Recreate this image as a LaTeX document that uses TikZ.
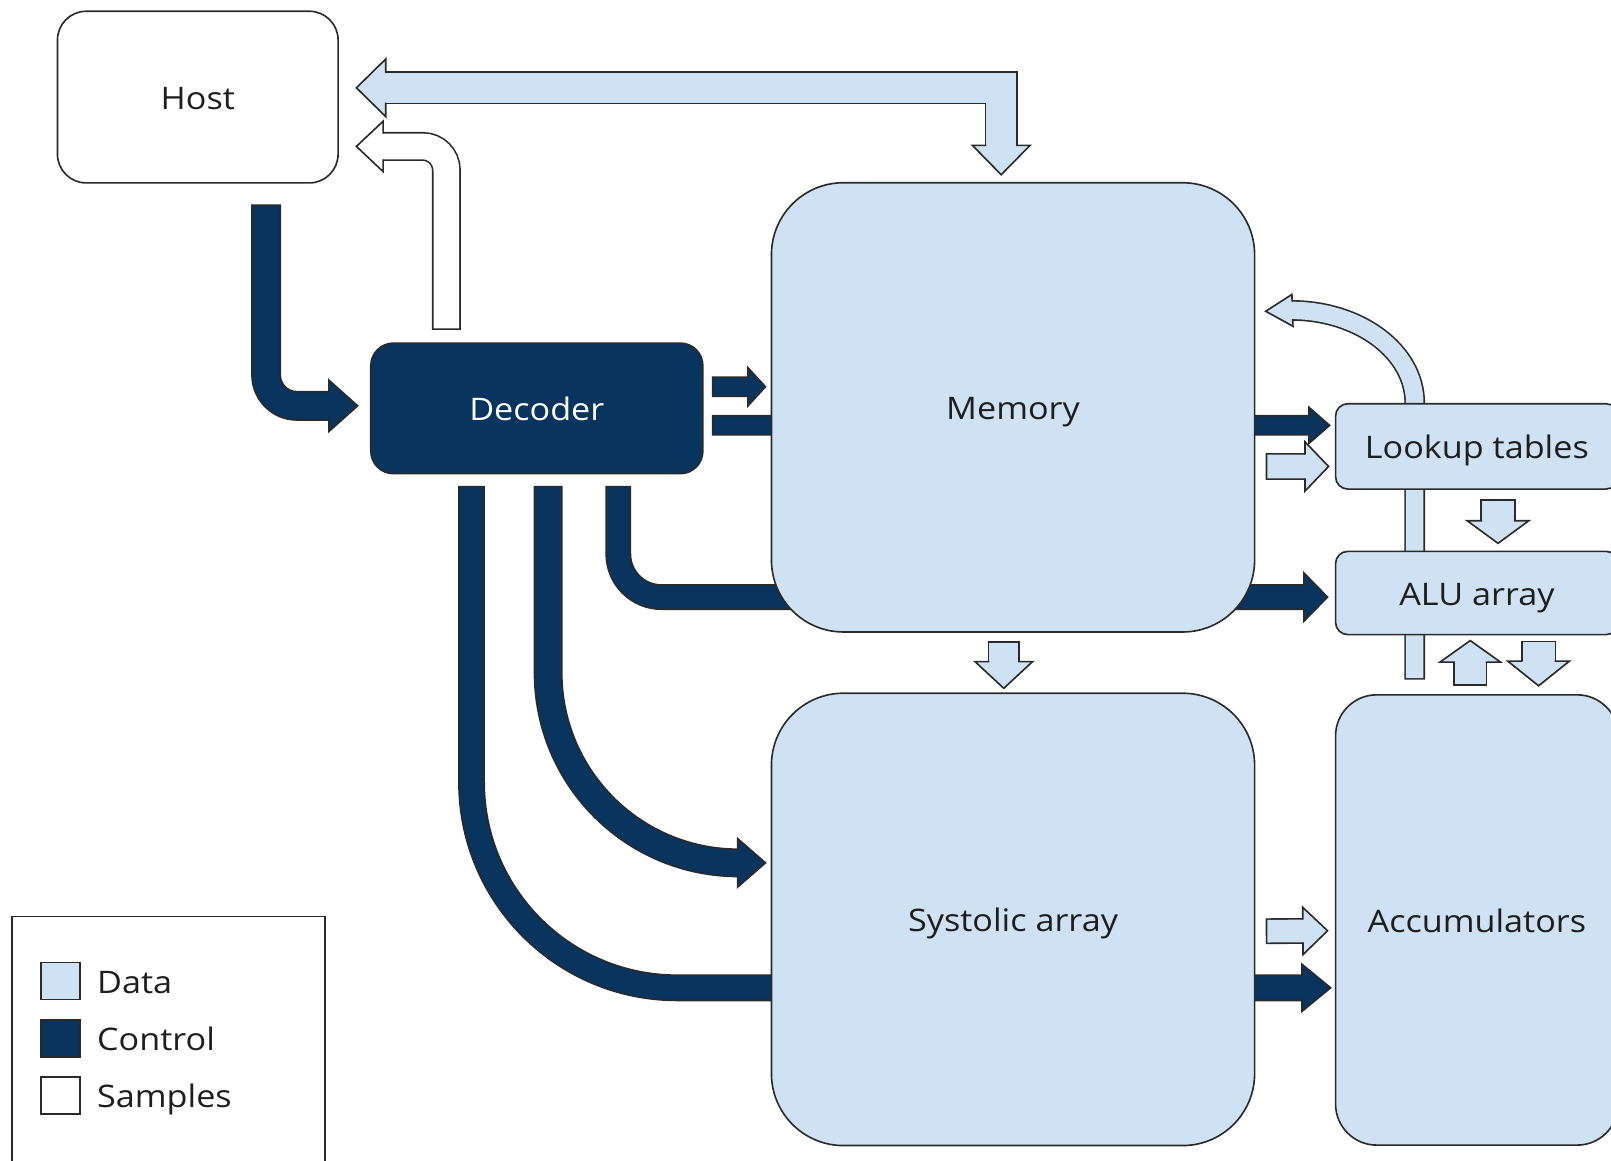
\documentclass[tikz,border=0pt]{standalone}
\usepackage{fontspec}
\setmainfont[FakeStretch=1.1]{Open Sans}
\usetikzlibrary{positioning, calc, decorations.markings}

\definecolor{datablue}{HTML}{CFE2F3}
\definecolor{ctrlnavy}{HTML}{08345E}
\definecolor{edge}{HTML}{2A2A2A}
\definecolor{ink}{HTML}{1E1E1E}
\newcommand{\edgew}{0.45pt}

\pgfdeclarelayer{background}
\pgfsetlayers{background,main}

\tikzset{
  unit/.style={draw=edge, line width=\edgew, fill=datablue, text=ink, inner sep=0pt,
    font=\fontsize{8.6}{10}\selectfont, text height=0.68em, text depth=0pt},
  key/.style={draw=edge, line width=\edgew, minimum width=0.38cm, minimum height=0.36cm, inner sep=0pt},
  keytext/.style={text=ink, inner sep=0pt, font=\fontsize{8.6}{10}\selectfont,
    text height=0.68em, text depth=0pt},
  % block arrow: colour, shaft width, head length, head half width
  flow/.style n args={4}{
    draw=#1, line width=#2, line cap=butt,
    shorten <=\edgew, shorten >=#3-0.5pt,
    preaction={draw=edge, line width=#2+2*\edgew, shorten <=0pt, shorten >=#3},
    postaction={decorate, decoration={markings,
      mark=at position 1 with {
        \fill[#1, sharp corners] (0,0) -- (-#3,#4) -- (-#3,-#4) -- cycle;
        \draw[edge, line width=\edgew, sharp corners, shorten <=0pt, shorten >=0pt]
          (-#3,#2/2) -- (-#3,#4) -- (0,0) -- (-#3,-#4) -- (-#3,-#2/2);
      }}}
  },
  % same, with a head on both ends
  flowboth/.style n args={4}{
    draw=#1, line width=#2, line cap=butt,
    shorten <=#3-0.5pt, shorten >=#3-0.5pt,
    preaction={draw=edge, line width=#2+2*\edgew, shorten <=#3, shorten >=#3},
    postaction={decorate, decoration={markings,
      mark=at position 0 with {
        \fill[#1, sharp corners] (0,0) -- (#3,#4) -- (#3,-#4) -- cycle;
        \draw[edge, line width=\edgew, sharp corners, shorten <=0pt, shorten >=0pt]
          (#3,#2/2) -- (#3,#4) -- (0,0) -- (#3,-#4) -- (#3,-#2/2);
      },
      mark=at position 1 with {
        \fill[#1, sharp corners] (0,0) -- (-#3,#4) -- (-#3,-#4) -- cycle;
        \draw[edge, line width=\edgew, sharp corners, shorten <=0pt, shorten >=0pt]
          (-#3,#2/2) -- (-#3,#4) -- (0,0) -- (-#3,-#4) -- (-#3,-#2/2);
      }}}
  },
}

\begin{document}
\begin{tikzpicture}[x=0.01cm, y=0.01cm]
  \useasboundingbox (0,0) rectangle (1568,1130);

  % Blocks
  \node[unit, fill=white, minimum width=2.73cm, minimum height=1.67cm, rounded corners=0.28cm]
    (host) at (192.5,1035.5) {Host};
  \node[unit, fill=ctrlnavy, text=white, minimum width=3.23cm, minimum height=1.27cm, rounded corners=0.22cm]
    (decoder) at (522.5,732.5) {Decoder};
  \node[unit, minimum width=4.70cm, minimum height=4.37cm, rounded corners=0.70cm]
    (memory) at (986,733.5) {Memory};
  \node[unit, minimum width=4.70cm, minimum height=4.40cm, rounded corners=0.70cm, below=0.58cm of memory]
    (systolic) {Systolic array};
  \node[unit, minimum width=2.75cm, minimum height=0.83cm, rounded corners=0.12cm]
    (lookup) at (1437.5,695.5) {Lookup tables};
  \node[unit, minimum width=2.75cm, minimum height=0.81cm, rounded corners=0.12cm, below=0.59cm of lookup]
    (alu) {ALU array};
  \node[unit, minimum width=2.75cm, minimum height=4.38cm, rounded corners=0.40cm, below=0.57cm of alu]
    (acc) {Accumulators};

  % Legend
  \node[draw=edge, line width=\edgew, minimum width=3.04cm, minimum height=2.58cm, inner sep=0pt]
    (legend) at (164,109) {};
  \node[key, fill=datablue] (keydata) at (59,175) {};
  \node[key, fill=ctrlnavy, below=0.18cm of keydata] (keyctrl) {};
  \node[key, fill=white, below=0.18cm of keyctrl] (keysamp) {};
  \node[keytext, right=0.15cm of keydata] (txtdata) {Data};
  \node[keytext, right=0.15cm of keyctrl] (txtctrl) {Control};
  \node[keytext, right=0.15cm of keysamp] (txtsamp) {Samples};

  \begin{pgfonlayer}{background}
    % Control
    \draw[flow={ctrlnavy}{0.26cm}{0.28cm}{0.25cm}, rounded corners=0.30cm]
      ([xshift=0.665cm, yshift=-0.20cm]host.south) |- ([xshift=-0.12cm, yshift=0.025cm]decoder.west);
    \draw[flow={ctrlnavy}{0.17cm}{0.17cm}{0.185cm}]
      ([xshift=0.08cm, yshift=0.21cm]decoder.east) -- ([xshift=-0.05cm, yshift=0.20cm]memory.west);
    \draw[flow={ctrlnavy}{0.17cm}{0.20cm}{0.175cm}]
      ([xshift=0.08cm, yshift=-0.165cm]decoder.east) -- ([xshift=-0.05cm, yshift=0.205cm]lookup.west);
    \draw[flow={ctrlnavy}{0.22cm}{0.23cm}{0.235cm}, rounded corners=0.42cm]
      ([xshift=0.7925cm, yshift=-0.11cm]decoder.south) |- ([xshift=-0.07cm, yshift=-0.04cm]alu.west);
    \draw[flow={ctrlnavy}{0.25cm}{0.27cm}{0.235cm}, rounded corners=1.85cm]
      ([xshift=0.11cm, yshift=-0.11cm]decoder.south) |- ([xshift=-0.05cm, yshift=0.55cm]systolic.west);
    \draw[flow={ctrlnavy}{0.23cm}{0.28cm}{0.23cm}, rounded corners=2cm]
      ([xshift=-0.635cm, yshift=-0.11cm]decoder.south) |- ([xshift=-0.04cm, yshift=-0.66cm]acc.west);

    % Samples
    \draw[flow={white}{0.25cm}{0.26cm}{0.245cm}, rounded corners=0.23cm]
      ([xshift=-0.88cm, yshift=0.12cm]decoder.north) |- ([xshift=0.17cm, yshift=-0.48cm]host.east);

    % Data
    \draw[flowboth={datablue}{0.29cm}{0.285cm}{0.28cm}]
      ([xshift=0.17cm, yshift=0.09cm]host.east) -| ([xshift=-0.115cm, yshift=0.07cm]memory.north);
    \draw[flow={datablue}{0.28cm}{0.26cm}{0.28cm}]
      ([xshift=-0.09cm, yshift=-0.08cm]memory.south) -- ([xshift=-0.09cm, yshift=0.04cm]systolic.north);
    \draw[flow={datablue}{0.23cm}{0.23cm}{0.24cm}]
      ([xshift=0.10cm, yshift=-0.575cm]memory.east) -- ([xshift=-0.06cm, yshift=-0.195cm]lookup.west);
    \draw[flow={datablue}{0.31cm}{0.22cm}{0.30cm}]
      ([xshift=0.205cm, yshift=-0.09cm]lookup.south) -- ([xshift=0.205cm, yshift=0.07cm]alu.north);
    \draw[flow={datablue}{0.30cm}{0.21cm}{0.295cm}]
      ([xshift=-0.065cm, yshift=0.08cm]acc.north) -- ([xshift=-0.065cm, yshift=-0.05cm]alu.south);
    \draw[flow={datablue}{0.31cm}{0.24cm}{0.30cm}]
      ([xshift=0.60cm, yshift=-0.05cm]alu.south) -- ([xshift=0.60cm, yshift=0.08cm]acc.north);
    \draw[flow={datablue}{0.17cm}{0.26cm}{0.155cm}]
      ([xshift=-0.605cm, yshift=0.14cm]acc.north) -- ([xshift=-0.605cm]lookup.north)
      arc[start angle=0, end angle=90, x radius=1.2cm, y radius=0.9cm]
      -- ([xshift=0.10cm, yshift=0.935cm]memory.east);
    \draw[flow={datablue}{0.22cm}{0.24cm}{0.23cm}]
      ([xshift=0.10cm, yshift=-0.115cm]systolic.east) -- ([xshift=-0.07cm, yshift=-0.105cm]acc.west);
  \end{pgfonlayer}
\end{tikzpicture}
\end{document}
